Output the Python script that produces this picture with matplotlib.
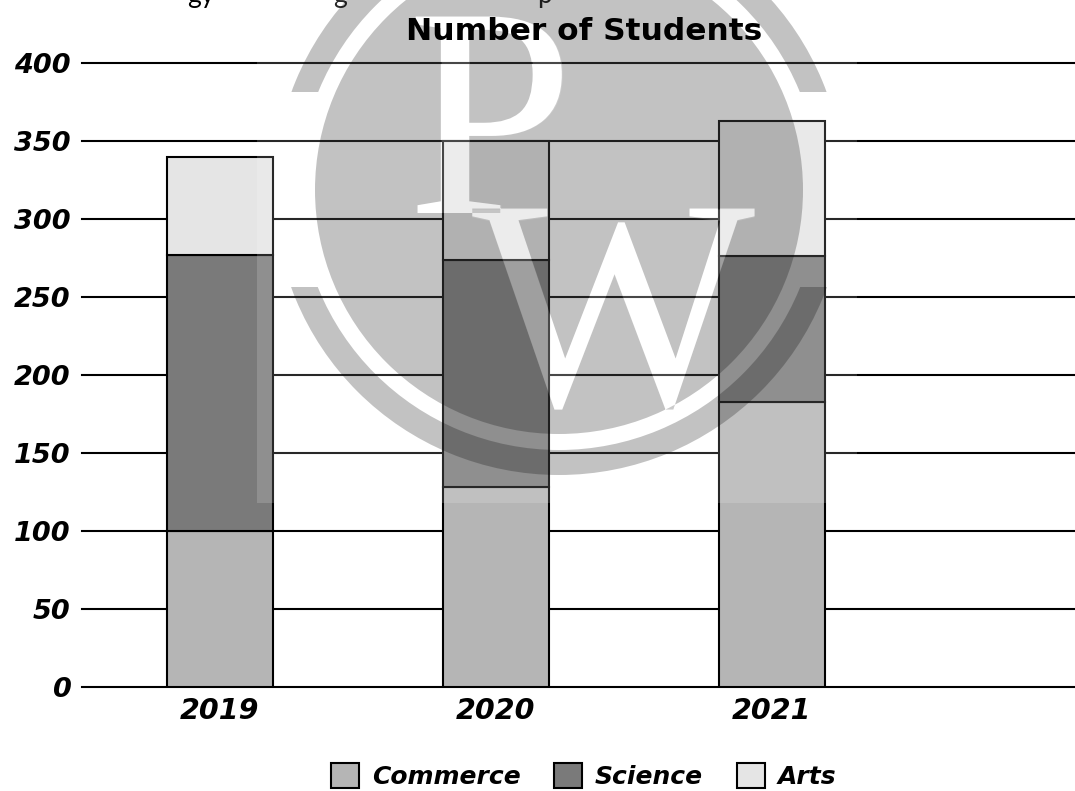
import numpy as np
import matplotlib
matplotlib.use('Agg')
import matplotlib.pyplot as plt
from matplotlib.font_manager import FontProperties
from matplotlib.patches import Annulus, PathPatch, Patch, Rectangle
from matplotlib.path import Path
from matplotlib.textpath import TextPath

years = ['2019', '2020', '2021']
commerce = [100, 128, 183]
science = [177, 146, 93]
arts = [63, 76, 87]
y_ticks = [0, 50, 100, 150, 200, 250, 300, 350, 400]

WIDTH, HEIGHT = 1075, 791
LABEL_FONT = dict(family='DejaVu Sans', weight='bold', style='oblique')


def draw_bars(ax):
    x = np.arange(len(years))
    bottom = np.zeros(len(years))
    series = [(commerce, '#b5b5b5', 'Commerce'), (science, '#7a7a7a', 'Science'), (arts, '#e5e5e5', 'Arts')]
    for values, color, name in series:
        ax.bar(x, values, 0.384, bottom=bottom, color=color, edgecolor='black', linewidth=1.5, zorder=3, label=name)
        bottom += np.array(values)


def draw_watermark(fig):
    # Full-figure layer in pixel units, y measured upward
    wm = fig.add_axes([0, 0, 1, 1], zorder=5)
    wm.set_xlim(0, WIDTH)
    wm.set_ylim(0, HEIGHT)
    wm.axis('off')
    wm.patch.set_alpha(0)

    cx, cy = 559, HEIGHT - 190

    wm.add_patch(Rectangle((257, HEIGHT - 503), 600, 503, facecolor='white', edgecolor='none', alpha=0.16))

    # Disc with the letters cut out
    serif = FontProperties(family='Liberation Serif')
    p_xy = (407, HEIGHT - 213)
    w_xy = (472, HEIGHT - 405)
    p_path = TextPath(p_xy, 'P', size=300, prop=serif)
    w_path = TextPath(w_xy, 'W', size=300, prop=serif)
    disc = Path.make_compound_path(Path.circle((cx, cy), 244), p_path, w_path)
    wm.add_patch(PathPatch(disc, facecolor='black', edgecolor='none', alpha=0.24))
    wm.text(*p_xy, 'P', fontsize=216, family='Liberation Serif', color='white', alpha=0.15, va='baseline', ha='left')
    wm.text(*w_xy, 'W', fontsize=216, family='Liberation Serif', color='white', alpha=0.15, va='baseline', ha='left')

    # Ring broken on both sides
    for y0, h in [(HEIGHT - 92, 92), (HEIGHT - 480, 193)]:
        ring = Annulus((cx, cy), 285, 25, facecolor='black', edgecolor='none', alpha=0.24)
        wm.add_patch(ring)
        ring.set_clip_path(Rectangle((0, y0), WIDTH, h, transform=wm.transData))

    # The heading stays solid black on top of the logo
    wm.text(584, HEIGHT - 31, 'Number of Students', fontsize=22.5, family='DejaVu Sans', weight='bold',
            ha='center', va='center', zorder=6)


def main():
    fig = plt.figure(figsize=(WIDTH / 100, HEIGHT / 100), dpi=100, facecolor='white')
    ax = fig.add_axes([82 / WIDTH, (HEIGHT - 687) / HEIGHT, (WIDTH - 82) / WIDTH, 624 / HEIGHT])

    draw_bars(ax)

    ax.set_xlim(-0.5, 3.098)
    ax.set_ylim(0, 400)
    ax.set_xticks(np.arange(len(years)), years)
    ax.set_yticks(y_ticks)
    ax.tick_params(length=0)
    ax.tick_params(axis='y', pad=8)
    ax.tick_params(axis='x', pad=7)
    for label in ax.get_yticklabels():
        label.set(fontsize=19.5, **LABEL_FONT)
    for label in ax.get_xticklabels():
        label.set(fontsize=20.5, **LABEL_FONT)
    for spine in ax.spines.values():
        spine.set_visible(False)
    for tick in y_ticks:
        ax.axhline(tick, color='black', linewidth=1.5, zorder=1, clip_on=False)

    # Bottom of the heading line that runs off the top edge
    for x, piece in [(187, 'gy'), (333, 'g'), (537, 'p')]:
        fig.text(x / WIDTH, 1 - 3 / HEIGHT, piece, fontsize=19, family='Lato', va='baseline')

    handles = [Patch(facecolor=c, edgecolor='black', linewidth=1.5) for c in ('#b5b5b5', '#7a7a7a', '#e5e5e5')]
    fig.legend(handles, ['Commerce', 'Science', 'Arts'], ncol=3, loc='center', bbox_to_anchor=(583.5 / WIDTH, 1 - 776 / HEIGHT),
               frameon=False, prop=FontProperties(size=18, **LABEL_FONT), handlelength=1.12, handleheight=1.12,
               handletextpad=0.5, columnspacing=1.35, borderpad=0)

    draw_watermark(fig)

    fig.savefig('out.png', dpi=100)


if __name__ == "__main__":
    main()
